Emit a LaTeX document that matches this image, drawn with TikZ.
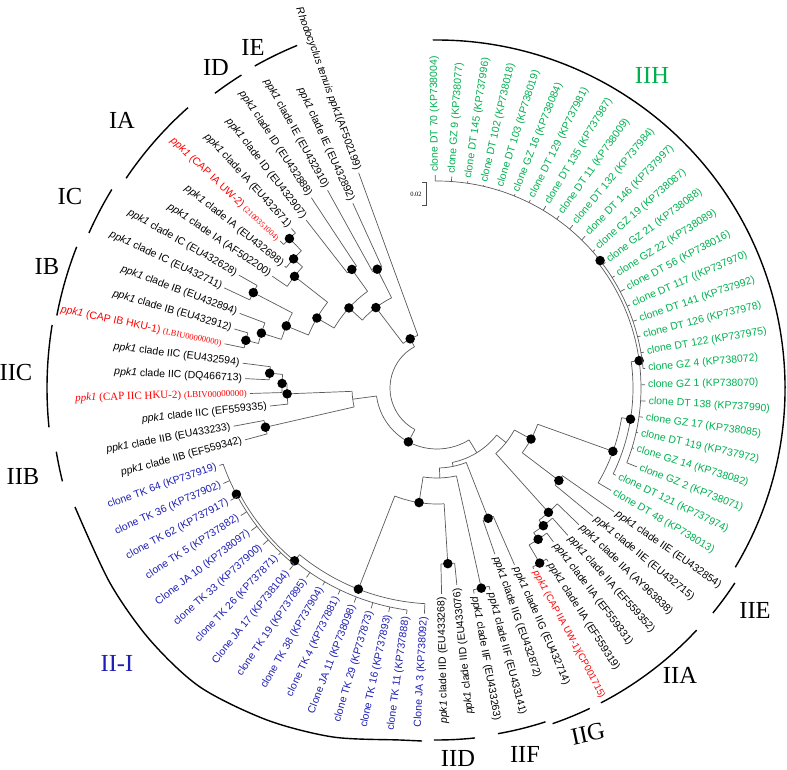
\documentclass[tikz,border=0pt]{standalone}
\usepackage{fontspec}
\setmainfont{Liberation Serif}
\setsansfont{Liberation Sans}
\usepackage{xcolor}
\definecolor{clonegreen}{RGB}{0,176,80}
\definecolor{cloneblue}{RGB}{30,30,180}
\definecolor{capred}{RGB}{255,0,0}

\tikzset{
  branch/.style={draw=black!65, line width=0.7pt},
  cladearc/.style={draw=black, line width=1.4pt},
  leaflab/.style={font=\sffamily\fontsize{10.5}{12}\selectfont, inner sep=0pt},
  cladelab/.style={font=\rmfamily\fontsize{24.5}{26}\selectfont, inner sep=0pt},
  dot/.style={circle, fill=black, inner sep=0pt, minimum size=9.5pt},
  hub/.style={inner sep=0pt, minimum size=0pt}
}

% style, name, angle, parent radius, radius, arc from, arc to
\newcommand\treenode[7]{%
  \draw[branch] (#3:#4) -- (#3:#5);
  \draw[branch] (#6:#5) arc[start angle=#6, end angle=#7, radius=#5];
  \node[#1] (#2) at (#3:#5) {};}

% index, parent radius, tip radius, colour, text
\newcommand\leafx[5]{%
  \pgfmathsetmacro\lfang{110+(#1-1)*4.48}%
  \pgfmathsetmacro\lfrad{#3+3}%
  \draw[branch] (\lfang:#2) -- (\lfang:#3);
  \ifdim\lfang pt>276pt
    \node[leaflab,#4,anchor=west,rotate=\lfang] (leaf#1) at (\lfang:\lfrad) {#5};
  \else
    \pgfmathsetmacro\lfrot{\lfang-180}%
    \node[leaflab,#4,anchor=east,rotate=\lfrot] (leaf#1) at (\lfang:\lfrad) {#5};
  \fi}

\begin{document}
\begin{tikzpicture}[x=1pt, y=1pt]
  \useasboundingbox (-437,-381) rectangle (350,388);

  % tree
  \draw[branch] (118.61:47) arc[start angle=118.61, end angle=242, radius=47];
  \treenode{dot}{nA}{118.61}{47}{56}{110}{127.22}
  \treenode{dot}{nB}{127.22}{56}{101}{116.72}{137.72}
  \treenode{dot}{nIE}{116.72}{101}{133}{114.48}{118.96}
  \treenode{dot}{nC}{137.72}{101}{119}{125.68}{149.76}
  \treenode{dot}{nID}{125.68}{119}{146}{123.44}{127.92}
  \treenode{dot}{nD}{149.76}{119}{139}{141.92}{157.6}
  \treenode{dot}{nIA}{141.92}{139}{181}{138}{145.84}
  \treenode{dot}{nIAb}{138}{181}{193}{134.64}{141.36}
  \treenode{dot}{nIAa}{134.64}{193}{210}{132.4}{136.88}
  \treenode{dot}{nE}{157.6}{139}{163}{152.56}{162.64}
  \treenode{dot}{nIC}{152.56}{163}{207}{150.32}{154.8}
  \treenode{dot}{nIB}{162.64}{163}{184}{159.28}{166}
  \treenode{dot}{nIBa}{166}{184}{197}{163.76}{168.24}
  \treenode{dot}{nG}{242}{47}{61}{187.56}{301.65}
  \treenode{hub}{nCB}{187.56}{61}{85}{182.24}{192.88}
  \treenode{dot}{nIIC}{182.24}{85}{150}{178.32}{186.16}
  \treenode{dot}{nIICb}{178.32}{150}{155}{174.96}{181.68}
  \treenode{dot}{nIICa}{174.96}{155}{168}{172.72}{177.2}
  \treenode{dot}{nIIB}{192.88}{85}{176}{190.64}{195.12}
  \treenode{hub}{nH}{301.65}{61}{76}{281.61}{321.69}
  \treenode{hub}{nQa}{281.61}{76}{80}{271.78}{291.44}
  \treenode{hub}{nQb}{271.78}{80}{90}{261.09}{282.48}
  \treenode{dot}{nJ}{261.09}{90}{116}{248.65}{273.52}
  \treenode{dot}{nII}{248.65}{116}{216}{230.5}{266.8}
  \treenode{dot}{nIIx}{230.5}{216}{224}{207.9}{262.32}
  \treenode{dot}{nIIy}{207.9}{224}{227}{199.6}{230.96}
  \treenode{dot}{nIID}{273.52}{116}{176}{271.28}{275.76}
  \treenode{dot}{nIIF}{282.48}{90}{205}{280.24}{284.72}
  \treenode{dot}{nIIG}{291.44}{80}{140}{289.2}{293.68}
  \treenode{hub}{nQc}{321.69}{76}{88}{311.88}{331.5}
  \treenode{dot}{nIIA}{311.88}{88}{167}{307.68}{316.08}
  \treenode{dot}{nIIAc}{307.68}{167}{174}{303.76}{311.6}
  \treenode{dot}{nIIAb}{303.76}{174}{182}{300.4}{307.12}
  \treenode{dot}{nIIAa}{300.4}{182}{203}{298.16}{302.64}
  \treenode{dot}{nP}{331.5}{88}{107}{322.8}{340.2}
  \treenode{dot}{nIIE}{322.8}{107}{153}{320.56}{325.04}
  \treenode{dot}{nHa}{340.2}{107}{187}{329.52}{350.85}
  \treenode{dot}{nHb}{350.85}{187}{196}{334}{367.7}
  \treenode{dot}{nHc}{367.7}{196}{204}{338.48}{398}
  \treenode{dot}{nHd}{398}{204}{207}{365.36}{450.48}

  % leaves
  \leafx{1}{56}{229}{black}{\textit{Rhodocyclus tenuis ppk1}(AF502199)}
  \leafx{2}{133}{203}{black}{\textit{ppk1} clade IE (EU432892)}
  \leafx{3}{133}{226}{black}{\textit{ppk1} clade IE (EU432910)}
  \leafx{4}{146}{228}{black}{\textit{ppk1} clade ID (EU432888)}
  \leafx{5}{146}{213}{black}{\textit{ppk1} clade ID (EU432907)}
  \leafx{6}{210}{216}{black}{\textit{ppk1} clade IA (EU432671)}
  \leafx{7}{210}{215}{capred}{\textit{ppk1} (CAP IA UW-2) {\rmfamily\fontsize{8}{9}\selectfont(2100351004)}}
  \leafx{8}{193}{195}{black}{\textit{ppk1} clade IA (EU432698)}
  \leafx{9}{181}{199}{black}{\textit{ppk1} clade IA (AF502200)}
  \leafx{10}{207}{228}{black}{\textit{ppk1} clade IC (EU432628)}
  \leafx{11}{207}{235}{black}{\textit{ppk1} clade IC (EU432711)}
  \leafx{12}{184}{211}{black}{\textit{ppk1} clade IB (EU432894)}
  \leafx{13}{197}{211}{black}{\textit{ppk1} clade IB (EU432912)}
  \leafx{14}{197}{217}{capred}{\textit{ppk1} (CAP IB HKU-1) {\rmfamily\fontsize{8.5}{9}\selectfont(LBIU00000000)}}
  \leafx{15}{168}{196}{black}{\textit{ppk1} clade IIC (EU432594)}
  \leafx{16}{168}{192}{black}{\textit{ppk1} clade IIC (DQ466713)}
  \leafx{17}{155}{187}{capred}{{\rmfamily\fontsize{11}{12}\selectfont\textit{ppk1} (CAP IIC HKU-2) {\fontsize{9}{10}\selectfont(LBIV00000000)}}}
  \leafx{18}{150}{168}{black}{\textit{ppk1} clade IIC (EF559335)}
  \leafx{19}{176}{207}{black}{\textit{ppk1} clade IIB (EU433233)}
  \leafx{20}{176}{199}{black}{\textit{ppk1} clade IIB (EF559342)}
  \leafx{21}{227}{231}{cloneblue}{clone TK 64 (KP737919)}
  \leafx{22}{227}{234}{cloneblue}{clone TK 36 (KP737902)}
  \leafx{23}{227}{235}{cloneblue}{clone TK 62 (KP737917)}
  \leafx{24}{227}{234}{cloneblue}{clone TK 5 (KP737882)}
  \leafx{25}{227}{234}{cloneblue}{Clone JA 10 (KP738097)}
  \leafx{26}{227}{234}{cloneblue}{clone TK 33 (KP737900)}
  \leafx{27}{227}{230}{cloneblue}{clone TK 26 (KP737871)}
  \leafx{28}{227}{234}{cloneblue}{Clone JA 17 (KP738104)}
  \leafx{29}{224}{230}{cloneblue}{clone TK 19 (KP737895)}
  \leafx{30}{224}{228}{cloneblue}{clone TK 38 (KP737904)}
  \leafx{31}{224}{229}{cloneblue}{clone TK 4 (KP737881)}
  \leafx{32}{224}{230}{cloneblue}{Clone JA 11 (KP738098)}
  \leafx{33}{224}{230}{cloneblue}{clone TK 29 (KP737873)}
  \leafx{34}{224}{229}{cloneblue}{clone TK 16 (KP737893)}
  \leafx{35}{224}{228}{cloneblue}{clone TK 11 (KP737888)}
  \leafx{36}{216}{226}{cloneblue}{Clone JA 3 (KP738092)}
  \leafx{37}{176}{206}{black}{\textit{ppk1} clade IID (EU433268)}
  \leafx{38}{176}{198}{black}{\textit{ppk1} clade IID (EU433076)}
  \leafx{39}{205}{209}{black}{\textit{ppk1} clade IIF (EU433263)}
  \leafx{40}{205}{209}{black}{\textit{ppk1} clade IIF (EU433141)}
  \leafx{41}{140}{176}{black}{\textit{ppk1} clade IIG (EU432872)}
  \leafx{42}{140}{193}{black}{\textit{ppk1} clade IIG (EU432714)}
  \leafx{43}{203}{205}{capred}{{\fontsize{9.6}{11}\selectfont\textit{ppk1} (CAP IIA UW-1)(CP001715)}}
  \leafx{44}{203}{206}{black}{\textit{ppk1} clade IIA (EF559319)}
  \leafx{45}{182}{193}{black}{\textit{ppk1} clade IIA (EF559331)}
  \leafx{46}{174}{197}{black}{\textit{ppk1} clade IIA (EF559352)}
  \leafx{47}{167}{197}{black}{\textit{ppk1} clade IIA (AY963838)}
  \leafx{48}{153}{202}{black}{\textit{ppk1} clade IIE (EU432715)}
  \leafx{49}{153}{216}{black}{\textit{ppk1} clade IIE (EU432854)}
  \leafx{50}{187}{202}{clonegreen}{clone DT 48 (KP738013)}
  \leafx{51}{196}{199}{clonegreen}{clone DT 121 (KP737974)}
  \leafx{52}{204}{215}{clonegreen}{clone GZ 2 (KP738071)}
  \leafx{53}{204}{206}{clonegreen}{clone GZ 14 (KP738082)}
  \leafx{54}{204}{206}{clonegreen}{clone DT 119 (KP737972)}
  \leafx{55}{204}{208}{clonegreen}{clone GZ 17 (KP738085)}
  \leafx{56}{204}{209}{clonegreen}{clone DT 138 (KP737990)}
  \leafx{57}{204}{208}{clonegreen}{clone GZ 1 (KP738070)}
  \leafx{58}{207}{209}{clonegreen}{clone GZ 4 (KP738072)}
  \leafx{59}{207}{210}{clonegreen}{clone DT 122 (KP737975)}
  \leafx{60}{207}{210}{clonegreen}{clone DT 126 (KP737978)}
  \leafx{61}{207}{211}{clonegreen}{clone DT 141 (KP737992)}
  \leafx{62}{207}{210}{clonegreen}{clone DT 117 ((KP737970)}
  \leafx{63}{207}{212}{clonegreen}{clone DT 56 (KP738016)}
  \leafx{64}{207}{210}{clonegreen}{clone GZ 22 (KP738089)}
  \leafx{65}{207}{210}{clonegreen}{clone GZ 21 (KP738088)}
  \leafx{66}{207}{210}{clonegreen}{clone GZ 19 (KP738087)}
  \leafx{67}{207}{212}{clonegreen}{clone DT 146 (KP737997)}
  \leafx{68}{207}{212}{clonegreen}{clone DT 132 (KP737984)}
  \leafx{69}{207}{211}{clonegreen}{clone DT 11 (KP738009)}
  \leafx{70}{207}{212}{clonegreen}{clone DT 135 (KP737987)}
  \leafx{71}{207}{210}{clonegreen}{clone DT 129 (KP737981)}
  \leafx{72}{207}{209}{clonegreen}{clone GZ 16 (KP738084)}
  \leafx{73}{207}{208}{clonegreen}{clone DT 103 (KP738019)}
  \leafx{74}{207}{208}{clonegreen}{clone DT 102 (KP738018)}
  \leafx{75}{207}{209}{clonegreen}{clone DT 145 (KP737996)}
  \leafx{76}{207}{212}{clonegreen}{clone GZ 9 (KP738077)}
  \leafx{77}{207}{213}{clonegreen}{clone DT 70 (KP738004)}

  % clade arcs
  \draw[cladearc] (112.2:370) arc[start angle=112.2, end angle=119.5, radius=370];
  \draw[cladearc] (122:369) arc[start angle=122, end angle=127, radius=369];
  \draw[cladearc] (131.6:375) arc[start angle=131.6, end angle=146, radius=375];
  \draw[cladearc] (148.6:381) arc[start angle=148.6, end angle=156, radius=381];
  \draw[cladearc] (158.6:387) arc[start angle=158.6, end angle=169.2, radius=387];
  \draw[cladearc] (170.7:390) arc[start angle=170.7, end angle=185.8, radius=390];
  \draw[cladearc] (189.5:386) arc[start angle=189.5, end angle=194, radius=386];
  \draw[cladearc] plot[smooth] coordinates {(-362,-119) (-327,-195) (-287,-252) (-237,-299) (-170,-332) (-104,-349) (-37,-352) (-15,-353)};
  \draw[cladearc] (269.5:352) arc[start angle=269.5, end angle=276.2, radius=352];
  \draw[cladearc] (280:351) arc[start angle=280, end angle=288, radius=351];
  \draw[cladearc] (289:355) arc[start angle=289, end angle=295.5, radius=355];
  \draw[cladearc] (297.5:355) arc[start angle=297.5, end angle=317, radius=355];
  \draw[cladearc] (320.8:356) arc[start angle=320.8, end angle=326.8, radius=356];
  \draw[cladearc] (329:348) arc[start angle=329, end angle=450.7, radius=348];

  \node[cladelab] (labIE) at (-184,341) {IE};
  \node[cladelab] (labID) at (-221,320) {ID};
  \node[cladelab] (labIA) at (-315,268) {IA};
  \node[cladelab] (labIC) at (-367,191) {IC};
  \node[cladelab] (labIB) at (-390,121) {IB};
  \node[cladelab] (labIIC) at (-421,15) {IIC};
  \node[cladelab] (labIIB) at (-414,-89) {IIB};
  \node[cladelab, cloneblue] (labIII) at (-320,-275) {II-I};
  \node[cladelab] (labIID) at (21,-370) {IID};
  \node[cladelab] (labIIF) at (88,-366) {IIF};
  \node[cladelab, rotate=12] (labIIG) at (151,-346) {IIG};
  \node[cladelab] (labIIA) at (243,-287) {IIA};
  \node[cladelab] (labIIE) at (318,-222) {IIE};
  \node[cladelab, clonegreen] (labIIH) at (215,313) {IIH};

  % scale
  \draw[black!70, line width=0.6pt] (-15,206) -- (-11,206) -- (-11,183) -- (-15,183);
  \node[font=\rmfamily\fontsize{6.5}{7}\selectfont, inner sep=0pt] (scale) at (-21,194) {0.02};
\end{tikzpicture}
\end{document}
